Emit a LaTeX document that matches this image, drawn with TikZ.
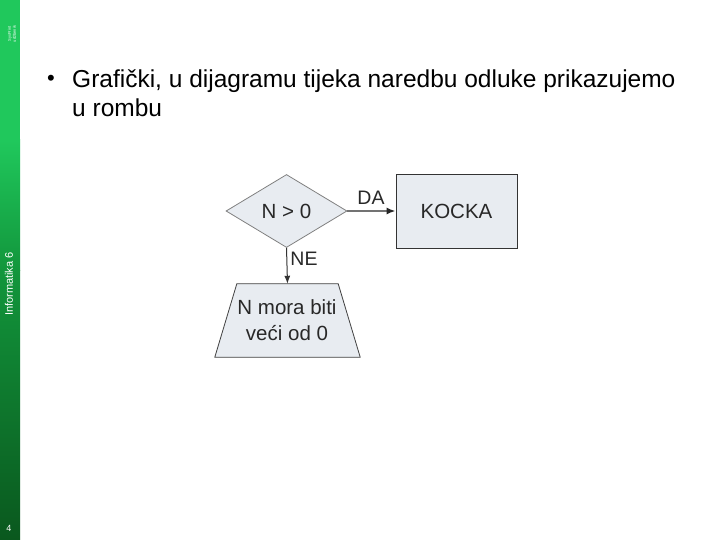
\documentclass[tikz,border=0pt]{standalone}
\usepackage{fontspec}
\setmainfont{Liberation Sans}
\usetikzlibrary{shapes.geometric,arrows.meta,calc}
\definecolor{barTop}{RGB}{32,200,92}
\definecolor{barMid}{RGB}{18,150,60}
\definecolor{barBot}{RGB}{10,88,30}
\definecolor{boxfill}{RGB}{232,236,241}
\definecolor{txt}{RGB}{40,40,40}
\tikzset{
  flowtext/.style={font=\fontsize{20.5}{23}\selectfont, text=txt},
  lbl/.style={font=\fontsize{19.5}{22}\selectfont, text=txt, inner sep=0pt},
  bodytext/.style={font=\fontsize{24.5}{29}\selectfont, inner sep=0pt, anchor=base west},
  conn/.style={draw=black!80, line width=1.2pt, -{Latex[length=8pt,width=6pt]}},
}
\begin{document}
\begin{tikzpicture}[x=1pt,y=-1pt]
\useasboundingbox (0,0) rectangle (720,540);
\fill[white] (0,0) rectangle (720,540);
% left bar
\fill[barTop] (0,0) rectangle (20,140);
\shade[top color=barTop, bottom color=barMid] (0,140) rectangle (20,270);
\shade[top color=barMid, bottom color=barBot] (0,270) rectangle (20,540);
\node[rotate=90, text=white, font=\fontsize{4}{5}\selectfont, align=center, inner sep=0pt] (brand) at (12,34) {SysPrint\\udžbenik};
\node[rotate=90, text=white, font=\fontsize{11}{13}\selectfont, inner sep=0pt] (subj) at (9,284) {Informatika 6};
\node[text=white, font=\fontsize{9}{11}\selectfont, inner sep=0pt] (pg) at (9,528) {4};
% bullet text
\node[bodytext, font=\fontsize{22}{24}\selectfont] (bul) at (47,86) {•};
\node[bodytext] (main1) at (72,88) {Grafički, u dijagramu tijeka naredbu odluke prikazujemo};
\node[bodytext] (main2) at (72,117) {u rombu};
% diagram
\node[diamond, draw=black!50, fill=boxfill, line width=0.8pt, minimum width=121pt, minimum height=73pt, inner sep=0pt, flowtext] (dia) at (286.5,211) {N > 0};
\node[rectangle, draw=black!80, fill=boxfill, line width=0.8pt, minimum width=121pt, minimum height=74pt, inner sep=0pt, flowtext] (kocka) at (456.5,211) {KOCKA};
\node[rectangle, minimum width=145pt, minimum height=73pt, inner sep=0pt] (trap) at (287.5,320.5) {};
\draw[draw=black!75, fill=boxfill, line width=0.8pt] (trap.south west) -- (trap.south east) -- ($(trap.north east)+(-22,0)$) -- ($(trap.north west)+(22,0)$) -- cycle;
\node[flowtext, align=center, inner sep=0pt] (traptext) at (287,320) {N mora biti\\[3pt]veći od 0};
\draw[draw=black!55, line width=1.8pt, -{Latex[length=9pt,width=7pt,color=black!85]}] (dia.east) -- (kocka.west);
\draw[conn, line width=1pt] (dia.south) -- (trap.north);
\node[lbl] (da) at (371,198) {DA};
\node[lbl] (ne) at (304,259) {NE};
\end{tikzpicture}
\end{document}
